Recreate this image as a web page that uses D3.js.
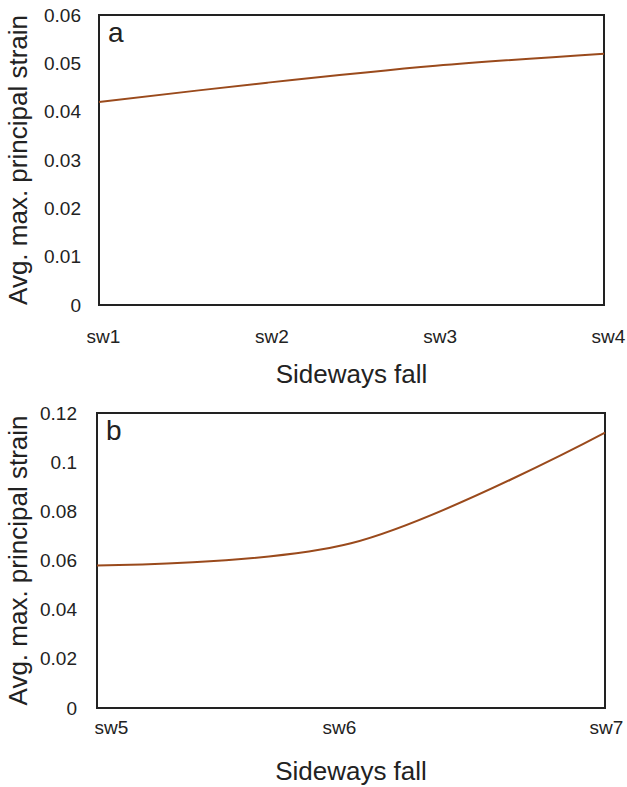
<!DOCTYPE html>
<html>
<head>
<meta charset="utf-8">
<script src="https://cdn.jsdelivr.net/npm/d3@7"></script>
<style>
  body { margin: 0; background: #fff; }
  text { font-family: "Liberation Sans", Arial, sans-serif; fill: #222; }
</style>
</head>
<body>
<div id="chart"></div>
<script>
// data
const catsA = ['sw1', 'sw2', 'sw3', 'sw4'];
const valsA = [0.042, 0.046, 0.0495, 0.052];
const ticksA = [0, 0.01, 0.02, 0.03, 0.04, 0.05, 0.06];

const catsB = ['sw5', 'sw6', 'sw7'];
const valsB = [0.058, 0.067, 0.112];
const ticksB = [0, 0.02, 0.04, 0.06, 0.08, 0.1, 0.12];

const W = 627, H = 787;
const svg = d3.select('#chart').append('svg').attr('width', W).attr('height', H);

// one panel = box, y ticks, x labels, smoothed line
function drawPanel(cats, vals, ticks, box, letter) {
  const g = svg.append('g');
  const x = d3.scalePoint().domain(cats).range([box.left, box.right]);
  const y = d3.scaleLinear().domain([0, ticks[ticks.length - 1]]).range([box.bottom, box.top]);

  // frame
  g.append('rect')
    .attr('x', box.left).attr('y', box.top)
    .attr('width', box.right - box.left).attr('height', box.bottom - box.top)
    .attr('fill', 'none').attr('stroke', '#222').attr('stroke-width', 2);

  // y axis labels (no tick lines in the original)
  const yAxis = d3.axisLeft(y).tickValues(ticks).tickSize(0).tickPadding(box.ypad)
    .tickFormat(d => String(+d.toFixed(2)));
  g.append('g').attr('transform', `translate(${box.left},0)`).call(yAxis)
    .call(a => a.select('.domain').remove())
    .selectAll('text').style('font-size', '19px').attr('fill', '#222');

  // x labels (excel nudges them a bit, hence the per-label dx)
  const xAxis = d3.axisBottom(x).tickSize(0).tickPadding(box.xpad);
  g.append('g').attr('transform', `translate(0,${box.bottom})`).call(xAxis)
    .call(a => a.select('.domain').remove())
    .selectAll('text').style('font-size', '19px').attr('fill', '#222')
    .attr('dx', (d, i) => box.dx[i]);

  // line
  const line = d3.line()
    .x((d, i) => x(cats[i]))
    .y(d => y(d))
    .curve(d3.curveCatmullRom.alpha(0.5));
  g.append('path').datum(vals)
    .attr('d', line).attr('fill', 'none')
    .attr('stroke', '#9a4a1c').attr('stroke-width', 2);

  // panel letter
  g.append('text').attr('x', box.left + 9).attr('y', box.top + 27)
    .style('font-size', '28px').text(letter);

  // axis titles
  g.append('text')
    .attr('transform', `translate(20,${(box.top + box.bottom) / 2}) rotate(-90)`)
    .attr('text-anchor', 'middle').attr('dominant-baseline', 'middle')
    .style('font-size', '26px').text('Avg. max. principal strain');
  g.append('text').attr('x', (box.left + box.right) / 2).attr('y', box.bottom + box.tpad)
    .attr('text-anchor', 'middle').style('font-size', '26px').text('Sideways fall');
}

drawPanel(catsA, valsA, ticksA,
  { left: 99, right: 604, top: 15, bottom: 305, ypad: 18, xpad: 25, dx: [4, 4, 4, 4], tpad: 78 }, 'a');
drawPanel(catsB, valsB, ticksB,
  { left: 97, right: 605, top: 413, bottom: 708, ypad: 20, xpad: 13, dx: [14, -12, 1], tpad: 72 }, 'b');
</script>
</body>
</html>
